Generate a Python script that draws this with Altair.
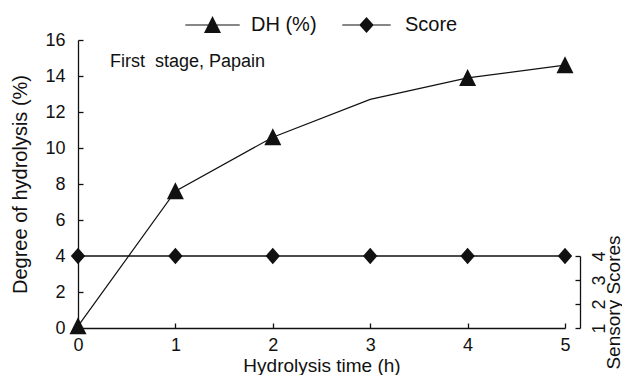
import altair as alt
import pandas as pd

# ---- data ----
hours = [0, 1, 2, 3, 4, 5]
dh_values = [0.1, 7.6, 10.6, 12.7, 13.9, 14.6]
dh_marked = [True, True, True, False, True, True]   # no marker drawn at 3 h
score_values = [4, 4, 4, 4, 4, 4]
series_names = ["DH (%)", "Score"]
x_ticks = [0, 1, 2, 3, 4, 5]
y_ticks = [0, 2, 4, 6, 8, 10, 12, 14, 16]
score_ticks = [1, 2, 3, 4]
annotation = "First\u00a0 stage, Papain"

# ---- style ----
W, H = 487, 288
FONT = "Liberation Sans"
INK = "#111111"
TICK_IN = {"expr": "-5"}

TRI = "M0,-1.05L1,0.95L-1,0.95Z"
DIA = "M0,-1.15L1,0L0,1.15L-1,0Z"
TRI_LEG = "M-3.2,-0.07L3.2,-0.07L3.2,0.07L-3.2,0.07Z M0,-1.05L1,0.95L-1,0.95Z"
DIA_LEG = "M-2.85,-0.07L2.85,-0.07L2.85,0.07L-2.85,0.07Z M0,-0.95L0.85,0L0,0.95L-0.85,0Z"

dh_df = pd.DataFrame({"time": hours, "dh": dh_values, "marked": dh_marked})
score_df = pd.DataFrame({"time": hours, "score": score_values})
legend_df = pd.DataFrame({"series": series_names})

x_enc = alt.X(
    "time:Q",
    scale=alt.Scale(domain=[0, 5], nice=False, zero=False),
    axis=alt.Axis(
        title="Hydrolysis time (h)", values=x_ticks, format="d",
        tickSize=TICK_IN, labelPadding=13, labelFlush=False,
        titleX=W / 2, titleY=43, titleAlign="center", titleBaseline="alphabetic",
        titleFontSize=19,
    ),
)

y_left = alt.Y(
    "dh:Q",
    scale=alt.Scale(domain=[0, 16], nice=False, zero=False),
    axis=alt.Axis(
        title="Degree of hydrolysis (%)", values=y_ticks, format="d",
        tickSize=TICK_IN, labelPadding=18, labelFlush=False,
        titleX=-58, titleY=H / 2, titleAngle=270, titleAlign="center",
        titleBaseline="middle",
    ),
)

y_right = alt.Y(
    "score:Q",
    scale=alt.Scale(domain=[1, 4], range=[H, H - 72], nice=False, zero=False),
    axis=alt.Axis(
        title="Sensory Scores", orient="right", offset=15, values=score_ticks,
        format="d", tickSize=TICK_IN, labelPadding=15, labelFlush=False,
        labelAngle=270, labelAlign="center", labelBaseline="top",
        titleX=33, titleY=262, titleAngle=270, titleAlign="center",
        titleBaseline="middle", titleFontSize=19,
    ),
)

dh_line = alt.Chart(dh_df).mark_line(color=INK, strokeWidth=1.2).encode(x=x_enc, y=y_left)
dh_pts = (
    alt.Chart(dh_df)
    .transform_filter("datum.marked")
    .mark_point(shape=TRI, size=289, filled=True, color=INK, opacity=1, strokeWidth=0)
    .encode(x=x_enc, y=y_left)
)
legend_layer = (
    alt.Chart(legend_df)
    .transform_filter("false")
    .mark_point(filled=True, color=INK, opacity=1, strokeWidth=0)
    .encode(
        shape=alt.Shape(
            "series:N",
            scale=alt.Scale(domain=series_names, range=[TRI_LEG, DIA_LEG]),
            legend=alt.Legend(
                title=None, orient="none", legendX=124.5, legendY=-25,
                direction="horizontal", symbolSize=289, labelOffset=28.5,
                columnPadding=24, padding=0, labelFont=FONT, labelFontSize=20,
                labelColor=INK, symbolFillColor=INK, symbolStrokeWidth=0,
            ),
        )
    )
)
note = alt.Chart(pd.DataFrame({"label": [annotation]})).mark_text(
    align="left", baseline="middle", font=FONT, fontSize=18, color=INK
).encode(text="label:N", x=alt.value(32), y=alt.value(22))

left = alt.layer(dh_line, dh_pts, legend_layer, note)

score_line = alt.Chart(score_df).mark_line(color=INK, strokeWidth=1.3).encode(x=x_enc, y=y_right)
score_pts = alt.Chart(score_df).mark_point(
    shape=DIA, size=207, filled=True, color=INK, opacity=1, strokeWidth=0
).encode(x=x_enc, y=y_right)
right = alt.layer(score_line, score_pts)

chart = (
    alt.layer(left, right)
    .resolve_scale(y="independent")
    .properties(
        width=W, height=H,
        padding={"left": 70, "top": 32, "right": 57, "bottom": 47},
        autosize=alt.AutoSizeParams(type="none"),
    )
    .configure_view(stroke=None)
    .configure_axis(
        grid=False, domainColor=INK, tickColor=INK, labelColor=INK, titleColor=INK,
        labelFont=FONT, titleFont=FONT, labelFontSize=18, titleFontSize=20,
        titleFontWeight="normal", domainWidth=1.3, tickWidth=1.3, labelOverlap=False,
    )
)

chart.save("out.html", embed_options={"renderer": "svg", "actions": False})
